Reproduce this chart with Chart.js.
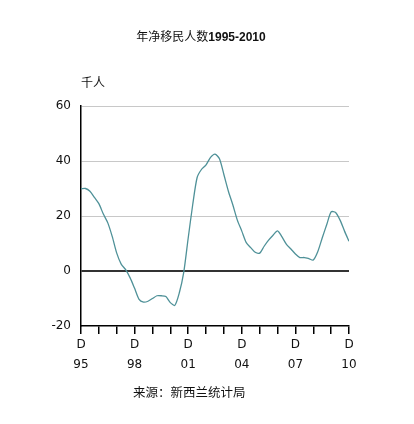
<!DOCTYPE html>
<html><head><meta charset="utf-8">
<script src="https://cdn.jsdelivr.net/npm/chart.js@4"></script>
<style>
html,body{margin:0;padding:0;background:#fff;}
#wrap{position:relative;width:414px;height:424px;overflow:hidden;}
canvas{position:absolute;left:0;top:0;}
.t{position:absolute;font-family:"Noto Sans CJK SC","Liberation Sans",sans-serif;color:#111;white-space:nowrap;line-height:1;}
</style></head>
<body><div id="wrap">
<canvas id="c" width="414" height="424"></canvas>
<div class="t" id="title" style="left:0;width:402px;text-align:center;top:30px;font-size:12px;">年净移民人数<b style="font-family:'Liberation Sans',Arial,sans-serif;">1995-2010</b></div>
<div class="t" style="left:81px;top:76px;font-size:12px;">千人</div>
<div class="t" style="left:133px;top:386px;font-size:12.5px;">来源：新西兰统计局</div>
</div>
<script>
// quarterly, Dec 1995 .. Dec 2010
const yearLabels = ["95","98","01","04","07","10"];
const monthLabel = "D";
const values = [29.9,30,29.0,26.8,24.5,20.7,17.5,12.5,6.5,2.5,0.5,-2.5,-6.3,-10.3,-11.3,-11,-10,-9,-9,-9.3,-11.5,-12.5,-8,-0.5,12,24,34,37,38.6,41.3,42.5,40.8,35,29,24,18.5,14.5,10.3,8.5,6.8,6.5,9,11.2,13,14.6,12.4,9.7,8,6.2,4.9,4.9,4.5,4,7,12,16.8,21.5,21.3,18.5,14.5,10.8];
const yTicks = [-20,0,20,40,60];

const pts = values.map((v,i)=>({x:i,y:v}));
new Chart(document.getElementById('c'),{
  type:'line',
  data:{datasets:[{data:pts,borderColor:'#4f9198',borderWidth:1.3,pointRadius:0,tension:0.25,fill:false}]},
  options:{
    responsive:false,animation:false,
    layout:{padding:{left:41,right:65,top:106,bottom:48}},
    plugins:{legend:{display:false},tooltip:{enabled:false}},
    scales:{
      x:{type:'linear',min:0,max:60,
        afterFit:s=>{s.height=50;},
        afterBuildTicks:s=>{s.ticks=[];for(let i=0;i<=60;i+=4)s.ticks.push({value:i});},
        ticks:{autoSkip:false,maxRotation:0,padding:1,color:'#111',
          font:{family:'DejaVu Sans',size:12,lineHeight:1.65},
          callback:(v)=> (v%12===0)?[monthLabel,yearLabels[v/12]]:''},
        grid:{drawOnChartArea:false,drawTicks:true,tickLength:8,color:'#000',lineWidth:1.5},
        border:{display:true,color:'#000',width:1.5}
      },
      y:{min:-20,max:60,
        afterFit:s=>{s.width=40;},
        afterBuildTicks:s=>{s.ticks=yTicks.map(v=>({value:v}));},
        ticks:{padding:10,color:'#111',font:{family:'DejaVu Sans',size:12}},
        grid:{drawTicks:false,color:c=>c.tick&&c.tick.value===0?'#333':(c.tick&&c.tick.value===-20?'rgba(0,0,0,0)':'#c8c8c8'),
              lineWidth:c=>c.tick&&c.tick.value===0?2:1},
        border:{display:true,color:'#000',width:1.5}
      }
    }
  }
});
</script>
</body></html>
